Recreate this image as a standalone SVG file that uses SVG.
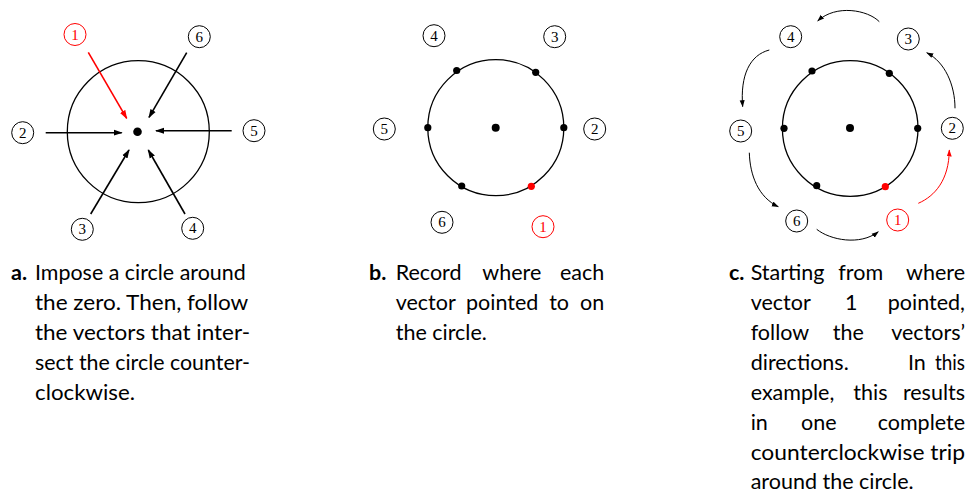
<svg xmlns="http://www.w3.org/2000/svg" width="971" height="493" viewBox="0 0 971 493">
<style>
.node circle{fill:#fff;stroke:#000;stroke-width:1}
.node text{font-family:"Liberation Serif",serif;font-size:15px;text-anchor:middle;fill:#000}
.node.red circle{stroke:#ff0000}
.node.red text{fill:#ff0000}
.big{fill:none;stroke:#000;stroke-width:1.3}
.dot{fill:#000}
.rdot{fill:#ff0000}
.vec{stroke:#000;stroke-width:1.6;fill:none;marker-end:url(#ah)}
.vec.r{stroke:#ff0000;marker-end:url(#ahr)}
.arc{stroke:#000;stroke-width:1;fill:none;marker-end:url(#sh)}
.arc.r{stroke:#ff0000;marker-end:url(#shr)}
.cap{font-family:Lato,"Noto Sans",sans-serif;font-size:21.5px;fill:#000}
.cap .b{font-weight:bold}
</style>
<defs>
<marker id="ah" markerUnits="userSpaceOnUse" markerWidth="9" markerHeight="8" viewBox="0 0 9 8" refX="8" refY="4" orient="auto"><path d="M0,1 L9,4 L0,7 z" fill="#000"/></marker>
<marker id="ahr" markerUnits="userSpaceOnUse" markerWidth="9" markerHeight="8" viewBox="0 0 9 8" refX="8" refY="4" orient="auto"><path d="M0,1 L9,4 L0,7 z" fill="#ff0000"/></marker>
<marker id="sh" markerUnits="userSpaceOnUse" markerWidth="7" markerHeight="6" viewBox="0 0 7 6" refX="6.5" refY="3" orient="auto"><path d="M0,0.5 L7,3 L0,5.5 z" fill="#000"/></marker>
<marker id="shr" markerUnits="userSpaceOnUse" markerWidth="7" markerHeight="6" viewBox="0 0 7 6" refX="6.5" refY="3" orient="auto"><path d="M0,0.5 L7,3 L0,5.5 z" fill="#ff0000"/></marker>
</defs>

<!-- Panel a -->
<g id="panel-a">
<circle class="big" cx="138.3" cy="131.7" r="71"/>
<circle class="dot" cx="137.5" cy="131.7" r="4.3"/>
</g>
<g id="connectors-a">
<line class="vec r" x1="88.3" y1="52.3" x2="126.7" y2="118.3"/>
<line class="vec" x1="186.7" y1="52.7" x2="149" y2="117.3"/>
<line class="vec" x1="45.7" y1="132.7" x2="121.7" y2="132.7"/>
<line class="vec" x1="231.7" y1="130.7" x2="156" y2="130.7"/>
<line class="vec" x1="90.7" y1="214" x2="129" y2="150"/>
<line class="vec" x1="185" y1="214" x2="148.3" y2="150"/>
</g>
<g id="a-n1" class="node red"><circle cx="75" cy="34.5" r="11"/><text x="75" y="39.5">1</text></g>
<g id="a-n6" class="node"><circle cx="199.3" cy="36.7" r="11"/><text x="199.3" y="41.7">6</text></g>
<g id="a-n2" class="node"><circle cx="22.7" cy="132.7" r="11"/><text x="22.7" y="137.7">2</text></g>
<g id="a-n5" class="node"><circle cx="254" cy="130.7" r="11"/><text x="254" y="135.7">5</text></g>
<g id="a-n3" class="node"><circle cx="82.3" cy="229.3" r="11"/><text x="82.3" y="234.3">3</text></g>
<g id="a-n4" class="node"><circle cx="192.7" cy="228.3" r="11"/><text x="192.7" y="233.3">4</text></g>

<!-- Panel b -->
<g id="panel-b">
<circle class="big" cx="495.8" cy="127.7" r="68"/>
<circle class="dot" cx="495.7" cy="127.7" r="4"/>
<circle class="dot" cx="456.7" cy="70.5" r="3.6"/>
<circle class="dot" cx="535.7" cy="72.3" r="3.6"/>
<circle class="dot" cx="427.8" cy="127.7" r="3.6"/>
<circle class="dot" cx="563.8" cy="127.7" r="3.6"/>
<circle class="dot" cx="461.7" cy="186" r="3.6"/>
<circle class="rdot" cx="531.3" cy="186.3" r="3.6"/>
</g>
<g id="b-n4" class="node"><circle cx="434" cy="35.7" r="11"/><text x="434" y="40.7">4</text></g>
<g id="b-n3" class="node"><circle cx="554.7" cy="36.7" r="11"/><text x="554.7" y="41.7">3</text></g>
<g id="b-n5" class="node"><circle cx="384.3" cy="129" r="11"/><text x="384.3" y="134">5</text></g>
<g id="b-n2" class="node"><circle cx="594.7" cy="129" r="11"/><text x="594.7" y="134">2</text></g>
<g id="b-n6" class="node"><circle cx="442" cy="222.3" r="11"/><text x="442" y="227.3">6</text></g>
<g id="b-n1" class="node red"><circle cx="543" cy="226.7" r="11"/><text x="543" y="231.7">1</text></g>

<!-- Panel c -->
<g id="panel-c">
<circle class="big" cx="850.2" cy="128.5" r="67.8"/>
<circle class="dot" cx="850" cy="128" r="4"/>
<circle class="dot" cx="812" cy="71" r="3.6"/>
<circle class="dot" cx="889.3" cy="73.3" r="3.6"/>
<circle class="dot" cx="784" cy="128.3" r="3.6"/>
<circle class="dot" cx="917.7" cy="128.3" r="3.6"/>
<circle class="dot" cx="816.7" cy="185.7" r="3.6"/>
<circle class="rdot" cx="885.3" cy="186.7" r="3.6"/>
</g>
<g id="connectors-c">
<path class="arc" d="M879.3,21.7 C868,10 836,4 817.7,21"/>
<path class="arc" d="M769.3,50 C750,55 740,75 742.7,106.7"/>
<path class="arc" d="M749.3,152.7 C750,175 758,197 778.3,206.7"/>
<path class="arc" d="M816.7,229.3 C830,240 860,246 878.3,231.7"/>
<path class="arc r" d="M918.3,203.3 C935,196 949,180 949.3,150"/>
<path class="arc" d="M955,108.3 C955,85 945,62 926.7,52.7"/>
</g>
<g id="c-n4" class="node"><circle cx="790.7" cy="36.7" r="11"/><text x="790.7" y="41.7">4</text></g>
<g id="c-n3" class="node"><circle cx="908.3" cy="39" r="11"/><text x="908.3" y="44">3</text></g>
<g id="c-n5" class="node"><circle cx="740.7" cy="131" r="11"/><text x="740.7" y="136">5</text></g>
<g id="c-n2" class="node"><circle cx="952.3" cy="128.3" r="11"/><text x="952.3" y="133.3">2</text></g>
<g id="c-n6" class="node"><circle cx="796.7" cy="221" r="11"/><text x="796.7" y="226">6</text></g>
<g id="c-n1" class="node red"><circle cx="897.7" cy="220" r="11"/><text x="897.7" y="225">1</text></g>

<!-- Captions -->
<g class="cap" id="caption-a">
<text class="b" x="11" y="280">a.</text>
<text x="35" y="280" textLength="210.7" lengthAdjust="spacingAndGlyphs">Impose a circle around</text>
<text x="35" y="310" textLength="213.3" lengthAdjust="spacingAndGlyphs">the zero. Then, follow</text>
<text x="35" y="340" textLength="215" lengthAdjust="spacingAndGlyphs">the vectors that inter-</text>
<text x="35" y="370" textLength="215" lengthAdjust="spacingAndGlyphs">sect the circle counter-</text>
<text x="35" y="400" textLength="100" lengthAdjust="spacingAndGlyphs">clockwise.</text>
</g>
<g class="cap" id="caption-b">
<text class="b" x="369" y="280">b.</text>
<text x="395.7" y="280">Record</text>
<text x="482.3" y="280">where</text>
<text x="604.3" y="280" text-anchor="end">each</text>
<text x="395.7" y="310">vector</text>
<text x="466" y="310">pointed</text>
<text x="549.2" y="310">to</text>
<text x="604.3" y="310" text-anchor="end">on</text>
<text x="395.7" y="340">the circle.</text>
</g>
<g class="cap" id="caption-c">
<text class="b" x="729" y="280">c.</text>
<text x="750.7" y="280">Starting</text>
<text x="838.3" y="280">from</text>
<text x="965" y="280" text-anchor="end">where</text>
<text x="750.7" y="310">vector</text>
<text x="845" y="310">1</text>
<text x="965" y="310" text-anchor="end">pointed,</text>
<text x="750.7" y="340">follow</text>
<text x="832.7" y="340">the</text>
<text x="965" y="340" text-anchor="end">vectors’</text>
<text x="750.7" y="370">directions.</text>
<text x="908" y="370">In</text>
<text x="935" y="370" textLength="30" lengthAdjust="spacingAndGlyphs">this</text>
<text x="750.7" y="400">example,</text>
<text x="853.3" y="400">this</text>
<text x="965" y="400" text-anchor="end">results</text>
<text x="750.7" y="430">in</text>
<text x="801" y="430">one</text>
<text x="965" y="430" text-anchor="end">complete</text>
<text x="750.7" y="460" textLength="214.3" lengthAdjust="spacingAndGlyphs">counterclockwise trip</text>
<text x="750.7" y="489">around the circle.</text>
</g>
</svg>
